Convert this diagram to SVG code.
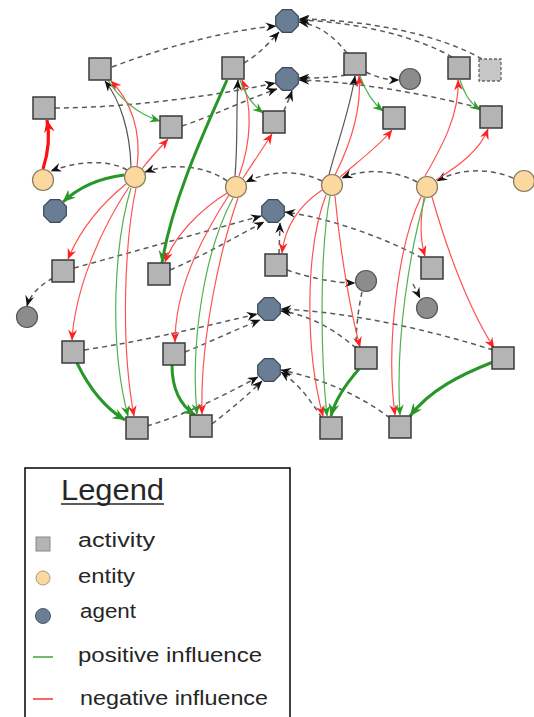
<svg xmlns="http://www.w3.org/2000/svg" xmlns:xlink="http://www.w3.org/1999/xlink" width="534" height="717" viewBox="0 0 534 717">
<style>
.act{fill:#b4b4b4;stroke:#3a3a3a;stroke-width:1.5}
.actd{fill:#c6c6c6;stroke:#666;stroke-width:1.3;stroke-dasharray:3,2}
.ent{fill:#fbd89e;stroke:#857a63;stroke-width:1.2}
.agt{fill:#697d94;stroke:#3c4a5c;stroke-width:1.2}
.gc{fill:#8c8c8c;stroke:#555;stroke-width:1.2}
.d{fill:none;stroke:#5a5a5a;stroke-width:1.5;stroke-dasharray:5,4}
.da{marker-end:url(#ak)}
.r{fill:none;stroke:#ff5252;stroke-width:1.2;marker-end:url(#ar)}
.g{fill:none;stroke:#52b052;stroke-width:1.2;marker-end:url(#ag)}
.k{fill:none;stroke:#555;stroke-width:1.2;marker-end:url(#ak)}
.R{fill:none;stroke:#ff1010;stroke-width:3.2;marker-end:url(#aR)}
.G{fill:none;stroke:#289628;stroke-width:3;marker-end:url(#aG)}
.lt{font-family:"Liberation Sans",Arial,sans-serif;font-size:20px;fill:#262626}
</style>
<defs>
<marker id="ak" viewBox="0 0 12 10" refX="11.5" refY="5" markerWidth="11" markerHeight="9" orient="auto" markerUnits="userSpaceOnUse"><path d="M0,0 L12,5 L0,10 L4,5 Z" fill="#111"/></marker>
<marker id="ar" viewBox="0 0 12 10" refX="11.5" refY="5" markerWidth="11" markerHeight="9" orient="auto" markerUnits="userSpaceOnUse"><path d="M0,0 L12,5 L0,10 L4,5 Z" fill="#ff2020"/></marker>
<marker id="ag" viewBox="0 0 12 10" refX="11.5" refY="5" markerWidth="11" markerHeight="9" orient="auto" markerUnits="userSpaceOnUse"><path d="M0,0 L12,5 L0,10 L4,5 Z" fill="#2a9a2a"/></marker>
<marker id="aR" viewBox="0 0 12 10" refX="11.5" refY="5" markerWidth="13" markerHeight="11" orient="auto" markerUnits="userSpaceOnUse"><path d="M0,0 L12,5 L0,10 L4,5 Z" fill="#ff1010"/></marker>
<marker id="aG" viewBox="0 0 12 10" refX="11.5" refY="5" markerWidth="13" markerHeight="11" orient="auto" markerUnits="userSpaceOnUse"><path d="M0,0 L12,5 L0,10 L4,5 Z" fill="#289628"/></marker>
<polygon id="oct" points="4.7,-11.3 11.3,-4.7 11.3,4.7 4.7,11.3 -4.7,11.3 -11.3,4.7 -11.3,-4.7 -4.7,-11.3"/>
</defs>
<rect width="534" height="717" fill="#fff"/>

<g id="connectors">
<!-- dashed provenance relations -->
<path class="d da" d="M112,67 C170,45 230,30 276,26"/>
<path class="d da" d="M244,63 C258,55 270,42 279,32"/>
<path class="d da" d="M347,53 C335,38 320,25 299,22"/>
<path class="d da" d="M452,57 C420,38 360,22 299,20"/>
<path class="d da" d="M482,59 C440,35 370,20 299,19"/>
<path class="d da" d="M55,108 C130,108 220,95 275,83"/>
<path class="d da" d="M182,126 C215,115 250,98 277,89"/>
<path class="d da" d="M284,111 C286,105 289,100 292,91"/>
<path class="d da" d="M346,75 C330,78 315,78 299,78"/>
<path class="d da" d="M480,108 C430,95 360,82 299,80"/>
<path class="d da" d="M366,72 C378,78 388,80 399,80"/>
<path class="d da" d="M127,170 C110,160 80,160 51,171"/>
<path class="d da" d="M227,181 C205,165 170,163 145,172"/>
<path class="d da" d="M322,181 C300,170 270,170 246,182"/>
<path class="d da" d="M417,182 C395,170 365,168 342,178"/>
<path class="d da" d="M513,178 C490,168 460,168 437,181"/>
<path class="d da" d="M74,268 C140,250 210,230 261,216"/>
<path class="d da" d="M170,270 C205,255 235,237 264,222"/>
<path class="d da" d="M422,258 C385,238 330,218 285,212"/>
<path class="d da" d="M279,254 L280,223"/>
<path class="d da" d="M53,278 C40,285 30,295 27,306"/>
<path class="d da" d="M287,270 C310,278 335,283 355,283"/>
<path class="d" d="M362,292 C358,310 356,330 356,347"/>
<path class="d da" d="M413,284 L420,298"/>
<path class="d da" d="M84,350 C150,340 210,325 257,314"/>
<path class="d da" d="M185,352 C210,342 235,330 260,320"/>
<path class="d da" d="M356,348 C335,330 310,315 281,311"/>
<path class="d da" d="M493,350 C430,330 350,312 281,309"/>
<path class="d da" d="M147,426 C185,415 225,395 258,377"/>
<path class="d da" d="M212,424 C230,410 248,395 262,381"/>
<path class="d da" d="M322,418 C310,400 300,385 281,372"/>
<path class="d da" d="M390,418 C360,395 320,378 281,370"/>

<!-- influences -->
<path class="R" d="M43,169 C49,150 50,135 47,120"/>
<path class="G" d="M124,175 C100,178 80,186 63,202"/>
<path class="k" d="M131,167 C130,130 120,100 105,81"/>
<path class="r" d="M137,167 C142,130 130,100 111,81"/>
<path class="g" d="M108,80 C120,100 140,115 160,121"/>
<path class="r" d="M142,169 C150,158 160,148 168,139"/>

<path class="k" d="M235,176 C238,140 236,110 238,80"/>
<path class="r" d="M239,176 C252,140 252,105 242,80"/>
<path class="g" d="M240,80 C245,95 253,105 263,113"/>
<path class="r" d="M243,178 C255,160 265,145 272,134"/>
<path class="G" d="M227,80 C205,130 172,200 162,263"/>

<path class="k" d="M329,175 C335,150 350,110 355,76"/>
<path class="r" d="M335,175 C350,145 362,110 359,76"/>
<path class="g" d="M360,76 C365,90 373,103 383,111"/>
<path class="r" d="M340,177 C360,160 380,145 392,130"/>

<path class="r" d="M425,176 C440,150 460,115 458,80"/>
<path class="g" d="M460,80 C465,95 470,103 480,110"/>
<path class="r" d="M436,180 C460,165 480,150 488,129"/>

<path class="r" d="M126,184 C100,205 80,230 68,259"/>
<path class="r" d="M129,187 C100,230 75,290 72,340"/>
<path class="g" d="M131,188 C115,240 108,340 128,416"/>
<path class="r" d="M136,188 C125,240 120,340 134,416"/>
<path class="G" d="M77,363 C90,390 105,408 125,420"/>

<path class="r" d="M227,193 C200,210 175,235 165,262"/>
<path class="r" d="M229,195 C200,240 175,290 175,342"/>
<path class="g" d="M233,198 C205,250 190,340 197,414"/>
<path class="r" d="M238,198 C220,250 200,340 202,414"/>
<path class="G" d="M172,365 C172,390 180,405 195,415"/>

<path class="r" d="M322,190 C300,205 285,225 282,253"/>
<path class="r" d="M326,195 C305,250 305,350 323,416"/>
<path class="g" d="M330,196 C320,250 320,350 327,416"/>
<path class="r" d="M335,196 C340,250 350,310 360,347"/>
<path class="G" d="M359,369 C345,385 335,400 331,416"/>

<path class="r" d="M424,198 C420,220 420,240 425,256"/>
<path class="r" d="M421,197 C400,240 385,340 395,415"/>
<path class="g" d="M425,198 C410,250 395,340 400,415"/>
<path class="r" d="M432,197 C450,260 470,310 494,348"/>
<path class="G" d="M493,362 C460,375 430,390 410,416"/>
</g>

<!-- activities -->
<g id="S1"><rect class="act" x="89" y="58" width="22" height="22"/></g>
<g id="S2"><rect class="act" x="33" y="97" width="22" height="22"/></g>
<g id="S3"><rect class="act" x="160" y="116" width="22" height="22"/></g>
<g id="S4"><rect class="act" x="222" y="57" width="22" height="22"/></g>
<g id="S5"><rect class="act" x="263" y="111" width="22" height="22"/></g>
<g id="S6"><rect class="act" x="344" y="53" width="22" height="22"/></g>
<g id="S7"><rect class="act" x="383" y="107" width="22" height="22"/></g>
<g id="S8"><rect class="act" x="448" y="57" width="22" height="22"/></g>
<g id="S9"><rect class="actd" x="479" y="59" width="22" height="22"/></g>
<g id="S10"><rect class="act" x="480" y="106" width="22" height="22"/></g>
<g id="S11"><rect class="act" x="52" y="260" width="22" height="22"/></g>
<g id="S12"><rect class="act" x="148" y="263" width="22" height="22"/></g>
<g id="S13"><rect class="act" x="265" y="254" width="22" height="22"/></g>
<g id="S14"><rect class="act" x="421" y="257" width="22" height="22"/></g>
<g id="S15"><rect class="act" x="62" y="341" width="22" height="22"/></g>
<g id="S16"><rect class="act" x="163" y="343" width="22" height="22"/></g>
<g id="S17"><rect class="act" x="355" y="347" width="22" height="22"/></g>
<g id="S18"><rect class="act" x="492" y="347" width="22" height="22"/></g>
<g id="S19"><rect class="act" x="126" y="417" width="22" height="22"/></g>
<g id="S20"><rect class="act" x="190" y="415" width="22" height="22"/></g>
<g id="S21"><rect class="act" x="320" y="417" width="22" height="22"/></g>
<g id="S22"><rect class="act" x="389" y="416" width="22" height="22"/></g>

<!-- entities -->
<g id="E1"><circle class="ent" cx="43" cy="180" r="10.5"/></g>
<g id="E2"><circle class="ent" cx="135" cy="177" r="10.5"/></g>
<g id="E3"><circle class="ent" cx="236" cy="187" r="10.5"/></g>
<g id="E4"><circle class="ent" cx="332" cy="185" r="10.5"/></g>
<g id="E5"><circle class="ent" cx="427" cy="187" r="10.5"/></g>
<g id="E6"><circle class="ent" cx="524" cy="181" r="10.5"/></g>

<!-- agents -->
<g id="G1"><use xlink:href="#oct" class="agt" x="55" y="211"/></g>
<g id="G2"><use xlink:href="#oct" class="agt" x="287" y="21"/></g>
<g id="G3"><use xlink:href="#oct" class="agt" x="287" y="79"/></g>
<g id="G4"><use xlink:href="#oct" class="agt" x="273" y="211"/></g>
<g id="G5"><use xlink:href="#oct" class="agt" x="269" y="309"/></g>
<g id="G6"><use xlink:href="#oct" class="agt" x="269" y="370"/></g>

<!-- grey circles -->
<g id="C1"><circle class="gc" cx="410" cy="79" r="10.5"/></g>
<g id="C2"><circle class="gc" cx="27" cy="317" r="10.5"/></g>
<g id="C3"><circle class="gc" cx="366" cy="281" r="10.5"/></g>
<g id="C4"><circle class="gc" cx="427" cy="308" r="10.5"/></g>

<!-- legend -->
<g id="legend">
<rect x="25" y="468" width="265" height="260" fill="none" stroke="#111" stroke-width="1.6"/>
<text x="61" y="500" font-family="'Liberation Sans',Arial,sans-serif" font-size="30" fill="#262626" textLength="103" lengthAdjust="spacingAndGlyphs">Legend</text>
<line x1="61" y1="504" x2="164" y2="504" stroke="#262626" stroke-width="1.5"/>
<rect x="36" y="537" width="14" height="14" fill="#b4b4b4" stroke="#888" stroke-width="1"/>
<text class="lt" x="78" y="547" textLength="77" lengthAdjust="spacingAndGlyphs">activity</text>
<circle cx="43" cy="578" r="7" fill="#fbd89e" stroke="#a89a7a" stroke-width="1"/>
<text class="lt" x="78" y="583" textLength="57" lengthAdjust="spacingAndGlyphs">entity</text>
<circle cx="43" cy="616" r="7.5" fill="#697d94" stroke="#4a566a" stroke-width="1"/>
<text class="lt" x="80" y="618" textLength="56" lengthAdjust="spacingAndGlyphs">agent</text>
<line x1="33" y1="657" x2="53" y2="657" stroke="#3aa63a" stroke-width="1.5"/>
<text class="lt" x="78" y="662" textLength="184" lengthAdjust="spacingAndGlyphs">positive influence</text>
<line x1="33" y1="699" x2="53" y2="699" stroke="#ff3030" stroke-width="1.5"/>
<text class="lt" x="80" y="705" textLength="188" lengthAdjust="spacingAndGlyphs">negative influence</text>
</g>
</svg>
